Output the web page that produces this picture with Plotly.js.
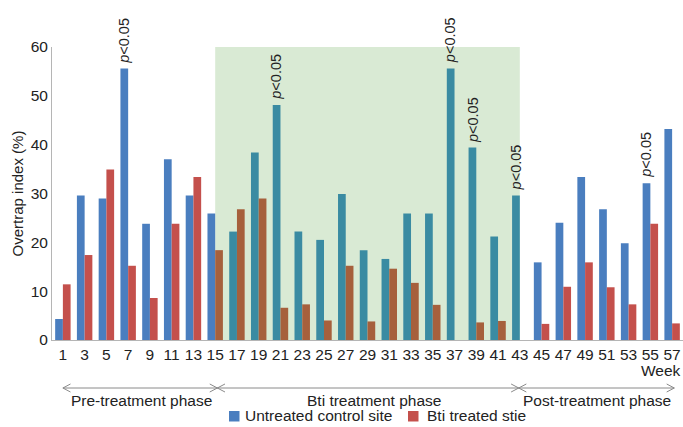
<!DOCTYPE html>
<html>
<head>
<meta charset="utf-8">
<script src="https://cdn.plot.ly/plotly-3.0.1.min.js"></script>
<style>html,body{margin:0;padding:0;background:#fff;}#chart{width:683px;height:427px;}</style>
</head>
<body>
<div id="chart"></div>
<script>
const weeks = [1,3,5,7,9,11,13,15,17,19,21,23,25,27,29,31,33,35,37,39,41,43,45,47,49,51,53,55,57];
const untreated = [4.3,29.6,29.0,55.6,23.8,37.0,29.6,25.9,22.2,38.4,48.1,22.2,20.5,29.9,18.4,16.6,25.9,25.9,55.6,39.4,21.2,29.6,15.9,24.0,33.4,26.8,19.8,32.1,43.2];
const treated = [11.4,17.4,34.9,15.2,8.6,23.8,33.4,18.4,26.8,29.0,6.6,7.3,4.0,15.2,3.8,14.6,11.7,7.2,0,3.6,3.9,0,3.3,10.9,15.9,10.8,7.3,23.8,3.4];
const significantWeeks = [7,21,37,39,43,55];
const treatmentStart = 15, treatmentEnd = 43;
const seriesNames = ['Untreated control site', 'Bti treated stie'];
const phaseLabels = ['Pre-treatment phase', 'Bti treatment phase', 'Post-treatment phase'];
const phaseCenters = [8.2, 29.6, 50.1];

const BLUE = '#4a7ebf', RED = '#c4504c', TEAL = '#3a8ba2', BROWN = '#a6603c', GREEN = '#d9ead4';
const FONT = 'Liberation Sans, Arial, sans-serif';
const TXT = '#222';
const FS = 15.5;

// pixel helpers for the plot area (l=52, width 631; t=47, height 293)
const px2x = p => (p - 52) / 631;
const py2y = p => (340 - p) / 293;

const blueColors = weeks.map(w => (w > treatmentStart && w <= treatmentEnd) ? TEAL : BLUE);
const redColors = weeks.map(w => (w >= treatmentStart && w < treatmentEnd) ? BROWN : RED);

const traces = [
  {type:'bar', x:weeks, y:untreated, name:seriesNames[0], marker:{color:blueColors}, showlegend:false},
  {type:'bar', x:weeks, y:treated, name:seriesNames[1], marker:{color:redColors}, showlegend:false}
];

const annotations = [];
significantWeeks.forEach(w => {
  const i = weeks.indexOf(w);
  annotations.push({x:w-0.355, y:untreated[i], xref:'x', yref:'y', text:'<i>p</i>&lt;0.05',
    textangle:-90, showarrow:false, xanchor:'center', yanchor:'bottom', yshift:3,
    font:{family:FONT, size:14.5, color:TXT}});
});
phaseLabels.forEach((t, k) => {
  annotations.push({x:phaseCenters[k], y:py2y(400), xref:'x', yref:'paper', text:t, showarrow:false,
    xanchor:'center', yanchor:'middle', font:{family:FONT, size:FS, color:TXT}});
});
annotations.push({x:1, y:py2y(370), xref:'paper', yref:'paper', text:'Week', showarrow:false,
  xanchor:'right', yanchor:'middle', font:{family:FONT, size:FS, color:TXT}});

// manual legend
const legendItems = [
  {name:seriesNames[0], color:BLUE, sq:229, tx:243},
  {name:seriesNames[1], color:RED, sq:408, tx:425}
];
const shapes = [
  {type:'rect', xref:'x', yref:'y', x0:treatmentStart, x1:treatmentEnd, y0:0, y1:60, fillcolor:GREEN, line:{width:0}, layer:'below'}
];
legendItems.forEach(it => {
  shapes.push({type:'rect', xref:'paper', yref:'paper', x0:px2x(it.sq), x1:px2x(it.sq+10.5), y0:py2y(411), y1:py2y(421.5),
    fillcolor:it.color, line:{width:0}});
  annotations.push({x:px2x(it.tx), y:py2y(416), xref:'paper', yref:'paper', text:it.name, showarrow:false,
    xanchor:'left', yanchor:'middle', font:{family:FONT, size:FS, color:TXT}});
});

const ay = py2y(388), dh = 0.0137, dl = 0.7;
const lc = '#8a8a8a';
const xs = [1.0, 15.2, 42.9, 57.2];
shapes.push(
  {type:'line', xref:'x', yref:'paper', x0:xs[0], x1:xs[3], y0:ay, y1:ay, line:{color:lc, width:1}},
  {type:'path', xref:'x', yref:'paper', path:`M ${xs[0]+dl},${ay+dh} L ${xs[0]},${ay} L ${xs[0]+dl},${ay-dh}`, line:{color:lc, width:1}},
  {type:'path', xref:'x', yref:'paper', path:`M ${xs[3]-dl},${ay+dh} L ${xs[3]},${ay} L ${xs[3]-dl},${ay-dh}`, line:{color:lc, width:1}}
);
[xs[1], xs[2]].forEach(c => {
  shapes.push({type:'path', xref:'x', yref:'paper', path:`M ${c-dl},${ay+dh} L ${c+dl},${ay-dh} M ${c-dl},${ay-dh} L ${c+dl},${ay+dh}`, line:{color:lc, width:1}});
});

const layout = {
  width:683, height:427,
  margin:{l:52, r:0, t:47, b:87},
  paper_bgcolor:'#fff', plot_bgcolor:'rgba(0,0,0,0)',
  barmode:'group', bargap:0.29, bargroupgap:0,
  font:{family:FONT, size:FS, color:TXT},
  showlegend:false,
  xaxis:{range:[0,58], tickmode:'array', tickvals:weeks, ticktext:weeks.map(String), showgrid:false, zeroline:false,
    showline:true, linecolor:'#b5b5b5', linewidth:1, ticks:'', tickfont:{family:FONT, size:FS, color:TXT}},
  yaxis:{range:[0,60], dtick:10, showgrid:false, zeroline:false, showline:true, linecolor:'#b5b5b5', linewidth:1,
    ticks:'', tickfont:{family:FONT, size:FS, color:TXT},
    title:{text:'Overtrap index (%)', font:{family:FONT, size:15, color:TXT}, standoff:3}},
  shapes:shapes,
  annotations:annotations
};

Plotly.newPlot('chart', traces, layout, {staticPlot:true, displayModeBar:false});
</script>
</body>
</html>
